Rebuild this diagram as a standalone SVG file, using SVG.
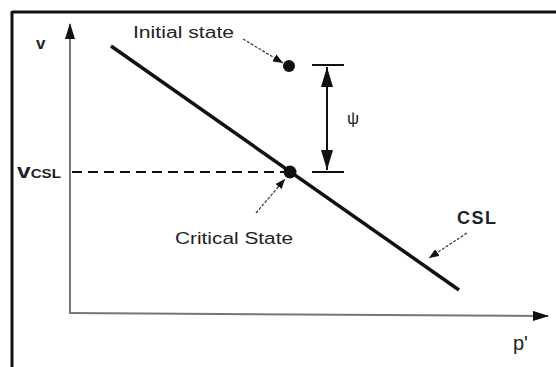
<svg xmlns="http://www.w3.org/2000/svg" width="556" height="367" viewBox="0 0 556 367">
<defs>
<style>
text{font-family:"Liberation Sans",Arial,sans-serif;fill:#222}
.ax{stroke:#777;stroke-width:2;fill:none}
.lead{stroke:#444;stroke-width:1.3;fill:none;stroke-dasharray:3 1.5}
</style>
<marker id="ah" markerWidth="10" markerHeight="8" refX="10" refY="4" orient="auto" markerUnits="userSpaceOnUse">
<path d="M0,0 L10,4 L0,8 Z" fill="#111"/>
</marker>
<marker id="axh" markerWidth="16" markerHeight="10" refX="15" refY="5" orient="auto" markerUnits="userSpaceOnUse">
<path d="M0,0 L16,5 L0,10 Z" fill="#111"/>
</marker>
<marker id="dh" markerWidth="20" markerHeight="12" refX="20" refY="6" orient="auto" markerUnits="userSpaceOnUse">
<path d="M0,0 L20,6 L0,12 Z" fill="#111"/>
</marker>
</defs>
<rect width="556" height="367" fill="#fff"/>
<g id="frame">
<line x1="12" y1="12" x2="556" y2="12" stroke="#111" stroke-width="3"/>
<line x1="12" y1="11" x2="12" y2="367" stroke="#111" stroke-width="3"/>
</g>
<g id="axes">
<line class="ax" x1="70" y1="313" x2="70" y2="24" marker-end="url(#axh)"/>
<line class="ax" x1="69" y1="313" x2="548" y2="316" marker-end="url(#axh)"/>
<text x="36" y="49" font-size="17" font-weight="bold">v</text>
<text x="513" y="350" font-size="20">p'</text>
</g>
<g id="csl-line">
<line x1="111" y1="46" x2="459" y2="290" stroke="#111" stroke-width="3.5"/>
</g>
<g id="connectors">
<line x1="72" y1="172" x2="284" y2="172" stroke="#111" stroke-width="1.8" stroke-dasharray="10 6"/>
<line class="lead" x1="243" y1="39" x2="283" y2="63" marker-end="url(#ah)"/>
<line class="lead" x1="256" y1="213" x2="285" y2="179" marker-end="url(#ah)"/>
<line class="lead" x1="467" y1="233" x2="429" y2="258" marker-end="url(#ah)"/>
<line x1="312" y1="65" x2="344" y2="65" stroke="#111" stroke-width="2"/>
<line x1="312" y1="172" x2="344" y2="172" stroke="#111" stroke-width="2"/>
<line x1="327" y1="118" x2="327" y2="67" stroke="#111" stroke-width="2" marker-end="url(#dh)"/>
<line x1="327" y1="118" x2="327" y2="170" stroke="#111" stroke-width="2" marker-end="url(#dh)"/>
</g>
<g id="initial-state">
<circle cx="289" cy="66" r="6" fill="#111"/>
<text x="133" y="38" font-size="16" textLength="101" lengthAdjust="spacingAndGlyphs">Initial state</text>
</g>
<g id="critical-state">
<circle cx="290" cy="172" r="6.5" fill="#111"/>
<text x="175" y="244" font-size="16" textLength="118" lengthAdjust="spacingAndGlyphs">Critical State</text>
</g>
<g id="psi">
<text x="347" y="124" font-size="17" font-family="DejaVu Sans, sans-serif" fill="#333">ψ</text>
</g>
<g id="vcsl">
<text x="17" y="178" font-size="21" font-weight="bold" textLength="44" lengthAdjust="spacingAndGlyphs">v<tspan font-size="13">CSL</tspan></text>
</g>
<g id="csl-label">
<text x="457" y="224" font-size="18" font-weight="bold" letter-spacing="1.5">CSL</text>
</g>
</svg>
